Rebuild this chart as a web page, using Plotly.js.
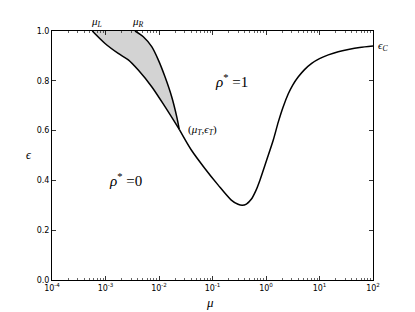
<!DOCTYPE html>
<html>
<head>
<meta charset="utf-8">
<script src="https://cdn.plot.ly/plotly-3.0.1.min.js"></script>
<style>html,body{margin:0;padding:0;background:#fff;}#plot{width:415px;height:312px;}</style>
</head>
<body>
<div id="plot"></div>
<script>
// Left boundary (mu_L -> T)
const leftMu  = [5.66e-4, 9.8e-4, 1.73e-3, 2.67e-3, 4.10e-3, 7.31e-3, 0.01294, 0.02393];
const leftEps = [1.0, 0.95, 0.91, 0.884, 0.843, 0.776, 0.696, 0.605];
// Right boundary (mu_R -> T)
const rightMu  = [3.56e-3, 5.09e-3, 7.31e-3, 9.70e-3, 0.01294, 0.01726, 0.02143, 0.02393];
const rightEps = [1.0, 0.977, 0.937, 0.884, 0.816, 0.736, 0.656, 0.605];
// Main curve (T -> mu = 100)
const mainMu  = [0.02393, 0.0402, 0.0714, 0.1268, 0.2244, 0.30, 0.36, 0.43, 0.53, 0.65, 0.773, 1.03, 1.368, 1.70, 2.09, 2.61, 3.16, 4.02, 5.25, 7.14, 10.0, 14.6, 22.4, 34.5, 56.2, 100];
const mainEps = [0.605, 0.522, 0.449, 0.382, 0.321, 0.304, 0.300, 0.305, 0.324, 0.360, 0.402, 0.482, 0.562, 0.635, 0.695, 0.748, 0.783, 0.816, 0.845, 0.870, 0.889, 0.904, 0.917, 0.926, 0.934, 0.940];

const xTickVals = [1e-4, 1e-3, 1e-2, 1e-1, 1, 10, 100];
const xTickText = ['10<sup>-4</sup>','10<sup>-3</sup>','10<sup>-2</sup>','10<sup>-1</sup>','10<sup>0</sup>','10<sup>1</sup>','10<sup>2</sup>'];
const yTickVals = [0, 0.2, 0.4, 0.6, 0.8, 1.0];
const yTickText = ['0.0','0.2','0.4','0.6','0.8','1.0'];

const minorVals = [];
for (let d = -4; d < 2; d++) for (let m = 2; m <= 9; m++) minorVals.push(m * Math.pow(10, d));

const regionMu = leftMu.concat(rightMu.slice().reverse());
const regionEps = leftEps.concat(rightEps.slice().reverse());

const traces = [
  {x: regionMu, y: regionEps, mode: 'lines', fill: 'toself', fillcolor: '#d3d3d3',
   line: {color: 'rgba(0,0,0,0)', width: 0, shape: 'spline'}, hoverinfo: 'skip'},
  {x: leftMu, y: leftEps, mode: 'lines', line: {color: '#000', width: 1.5, shape: 'spline', smoothing: 0.8}},
  {x: rightMu, y: rightEps, mode: 'lines', line: {color: '#000', width: 1.5, shape: 'spline', smoothing: 0.8}},
  {x: mainMu, y: mainEps, mode: 'lines', line: {color: '#000', width: 1.5, shape: 'spline', smoothing: 0.8}}
];

const serif = '"Liberation Serif", "DejaVu Serif", serif';
const L = 52, R = 373, T = 31, B = 280;
function px(x){ return (x - L) / (R - L); }
function py(y){ return (B - y) / (B - T); }

const annotations = [
  {text: '<i>μ</i><sub><i>L</i></sub>', x: px(96), y: py(22), size: 11},
  {text: '<i>μ</i><sub><i>R</i></sub>', x: px(138), y: py(22), size: 11},
  {text: '(<i>μ</i><sub><i>T</i></sub>,<i>ϵ</i><sub><i>T</i></sub>)', x: px(202), y: py(130), size: 11},
  {text: '<i>ϵ</i><sub><i>C</i></sub>', x: px(383), y: py(46), size: 11},
  {text: '<i>ρ</i><sup>*</sup> =1', x: px(232), y: py(81), size: 15},
  {text: '<i>ρ</i><sup>*</sup> =0', x: px(125), y: py(180), size: 15},
  {text: '<i>μ</i>', x: px(210), y: py(302), size: 13},
  {text: '<i>ϵ</i>', x: px(29), y: py(155), size: 12}
].map(a => ({text: a.text, x: a.x, y: a.y, xref: 'paper', yref: 'paper', showarrow: false,
  xanchor: 'center', yanchor: 'middle', font: {family: serif, size: a.size || 10, color: '#000'}}));

const axisCommon = {
  showline: true, linecolor: '#000', linewidth: 1, mirror: 'ticks',
  ticks: 'inside', ticklen: 4, tickwidth: 0.8, tickcolor: '#000',
  showgrid: false, zeroline: false,
  tickfont: {family: '"DejaVu Sans", sans-serif', size: 8, color: '#000'}
};

const layout = {
  width: 415, height: 312,
  margin: {l: L, r: 415 - R, t: T, b: 312 - B},
  paper_bgcolor: '#fff', plot_bgcolor: '#fff',
  showlegend: false,
  xaxis: Object.assign({}, axisCommon, {
    type: 'log', range: [-4, 2], tickmode: 'array', tickvals: xTickVals, ticktext: xTickText,
    minor: {tickmode: 'array', tickvals: minorVals, ticks: 'inside', ticklen: 2, tickcolor: '#000', tickwidth: 0.6}
  }),
  yaxis: Object.assign({}, axisCommon, {
    range: [0, 1], tickmode: 'array', tickvals: yTickVals, ticktext: yTickText
  }),
  annotations: annotations
};

Plotly.newPlot('plot', traces, layout, {displayModeBar: false, staticPlot: true});
</script>
</body>
</html>
